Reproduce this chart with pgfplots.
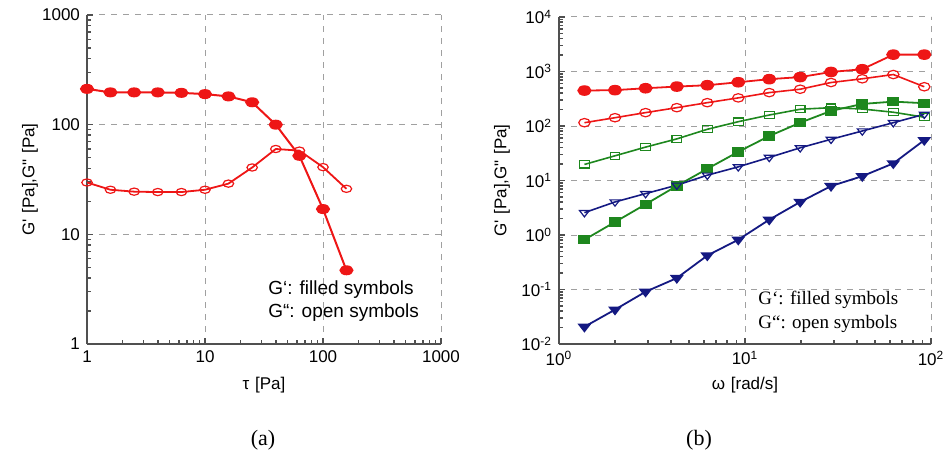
\documentclass[border=0pt]{standalone}
\usepackage{pgfplots}
\pgfplotsset{compat=1.18}
\usepackage{fontspec}
\setmainfont{Liberation Sans}
\newfontfamily\serif{Liberation Serif}
\definecolor{cred}{RGB}{238,22,22}
\definecolor{cgreen}{RGB}{30,135,30}
\definecolor{cblue}{RGB}{20,25,130}
\definecolor{axgray}{RGB}{80,80,80}
\definecolor{gridgray}{RGB}{160,160,160}
\pgfplotsset{
  myax/.style={
    scale only axis,
    anchor=south west,
    tick label style={font=\fontsize{8.5}{10}\selectfont},
    axis x line*=bottom, axis y line*=left,
    axis line style={-, axgray, line width=0.8pt},
    major grid style={dashed, gridgray, line width=0.5pt},
    xmajorgrids, ymajorgrids,
    tick align=inside,
    major tick length=3pt, minor tick length=2.2pt,
    tick style={axgray, line width=0.8pt},
  },
}
\begin{document}
\begin{tikzpicture}
% ---------- panel (a)
\begin{axis}[myax,
  at={(43.5pt,56pt)}, width=177pt, height=164.5pt,
  xmode=log, ymode=log,
  xmin=1, xmax=1000, ymin=1, ymax=1000,
  xtick={1,10,100,1000}, xticklabels={1,10,100,1000},
  ytick={1,10,100,1000}, yticklabels={1,10,100,1000},
  minor xtick={2,3,4,5,6,7,8,9,20,30,40,50,60,70,80,90,200,300,400,500,600,700,800,900},
  minor ytick={2,3,4,5,6,7,8,9,20,30,40,50,60,70,80,90,200,300,400,500,600,700,800,900},
  xlabel={τ\,\,[Pa]},
  ylabel={G\textquotesingle\,\,[Pa],G\textquotedbl\,\,[Pa]},
  xlabel style={font=\fontsize{8.5}{10}\selectfont, at={(axis description cs:0.5,-0.125)}, anchor=center},
  ylabel style={font=\fontsize{8.5}{10}\selectfont, at={(axis description cs:-0.161,0.5)}, anchor=center},
]
\addplot[cred, line width=1pt, mark=*, mark size=2pt, mark options={xscale=1.5, fill=cred}] coordinates {
(1,212) (1.58,197) (2.51,197) (3.98,197) (6.31,195) (10,190) (15.8,181) (25.1,160) (39.8,100) (63.1,52) (100,17) (158,4.7)
};
\addplot[cred, line width=0.9pt, mark=o, mark size=1.8pt, mark options={xscale=1.45, fill=white, line width=0.6pt}] coordinates {
(1,29.7) (1.58,25.5) (2.51,24.5) (3.98,24.3) (6.31,24.3) (10,25.5) (15.8,29) (25.1,40.7) (39.8,60) (63.1,58) (100,41) (158,26)
};
\node[anchor=west, font=\fontsize{9.5}{11}\selectfont, inner sep=0pt] at (axis description cs:0.511,0.164) {G‘: filled symbols};
\node[anchor=west, font=\fontsize{9.5}{11}\selectfont, inner sep=0pt] at (axis description cs:0.511,0.094) {G“: open symbols};
\end{axis}
% ---------- panel (b)
\begin{axis}[myax,
  at={(279.5pt,56pt)}, width=186pt, height=163.5pt,
  xmode=log, ymode=log,
  xmin=1, xmax=100, ymin=1e-2, ymax=1e4,
  xtick={1,10,100}, xticklabels={10\textsuperscript{0},10\textsuperscript{1},10\textsuperscript{2}},
  ytick={1e-2,1e-1,1,10,100,1000,10000},
  yticklabels={10\textsuperscript{-2},10\textsuperscript{-1},10\textsuperscript{0},10\textsuperscript{1},10\textsuperscript{2},10\textsuperscript{3},10\textsuperscript{4}},
  minor xtick={2,3,4,5,6,7,8,9,20,30,40,50,60,70,80,90},
  minor ytick={0.02,0.03,0.04,0.05,0.06,0.07,0.08,0.09,0.2,0.3,0.4,0.5,0.6,0.7,0.8,0.9,2,3,4,5,6,7,8,9,20,30,40,50,60,70,80,90,200,300,400,500,600,700,800,900,2000,3000,4000,5000,6000,7000,8000,9000},
  xlabel={ω\,\,[rad/s]},
  ylabel={G\textquotesingle\,\,[Pa],G\textquotedbl\,\,[Pa]},
  xlabel style={font=\fontsize{8.5}{10}\selectfont, at={(axis description cs:0.5,-0.125)}, anchor=center},
  ylabel style={font=\fontsize{8.5}{10}\selectfont, at={(axis description cs:-0.153,0.5)}, anchor=center},
]
\addplot[cred, line width=0.9pt, mark=*, mark size=2.2pt, mark options={xscale=1.4, fill=cred}] coordinates {
(1.37,447) (2.0,455) (2.92,493) (4.3,529) (6.27,560) (9.2,635) (13.5,723) (19.8,790) (29,980) (42.7,1100) (62.7,2040) (92,2040)
};
\addplot[cred, line width=0.8pt, mark=o, mark size=2.1pt, mark options={xscale=1.35, fill=white, line width=0.6pt}] coordinates {
(1.37,115) (2.0,142) (2.92,176) (4.3,217) (6.27,268) (9.2,328) (13.5,410) (19.8,473) (29,628) (42.7,735) (62.7,880) (92,525)
};
\addplot[cgreen, line width=0.9pt, mark=square*, mark size=1.9pt, mark options={xscale=1.35, fill=cgreen}] coordinates {
(1.37,0.82) (2.0,1.73) (2.92,3.66) (4.3,7.96) (6.27,16.4) (9.2,33.6) (13.5,65.5) (19.8,115) (29,189) (42.7,254) (62.7,280) (92,262)
};
\addplot[cgreen, line width=0.8pt, mark=square, mark size=1.8pt, mark options={xscale=1.35, fill=white, line width=0.6pt}] coordinates {
(1.37,19.7) (2.0,28.4) (2.92,41) (4.3,58) (6.27,87) (9.2,120) (13.5,159) (19.8,203) (29,217) (42.7,205) (62.7,179) (92,145)
};
\addplot[cblue, line width=0.9pt, mark=triangle*, mark size=2.2pt, mark options={rotate=180, xscale=1.35, fill=cblue}] coordinates {
(1.37,0.0207) (2.0,0.0427) (2.92,0.091) (4.3,0.162) (6.27,0.42) (9.2,0.82) (13.5,1.91) (19.8,4.04) (29,7.9) (42.7,12) (62.7,20.6) (92,55)
};
\addplot[cblue, line width=0.8pt, mark=triangle, mark size=2.1pt, mark options={rotate=180, xscale=1.35, fill=white, line width=0.6pt}] coordinates {
(1.37,2.57) (2.0,4.04) (2.92,5.75) (4.3,8.2) (6.27,12.5) (9.2,17.8) (13.5,26.5) (19.8,39.8) (29,57) (42.7,81) (62.7,115) (92,164)
};
\node[anchor=west, font=\serif\fontsize{9.5}{11}\selectfont, inner sep=0pt] at (axis description cs:0.535,0.1346) {G‘: filled symbols};
\node[anchor=west, font=\serif\fontsize{9.5}{11}\selectfont, inner sep=0pt] at (axis description cs:0.535,0.061) {G“: open symbols};
\end{axis}
\node[font=\serif\fontsize{11}{13}\selectfont] at (131.5pt,8pt) {(a)};
\node[font=\serif\fontsize{11}{13}\selectfont] at (349.5pt,8pt) {(b)};
\pgfresetboundingbox
\path[use as bounding box] (0,0) rectangle (475.5pt,228pt);
\end{tikzpicture}
\end{document}
